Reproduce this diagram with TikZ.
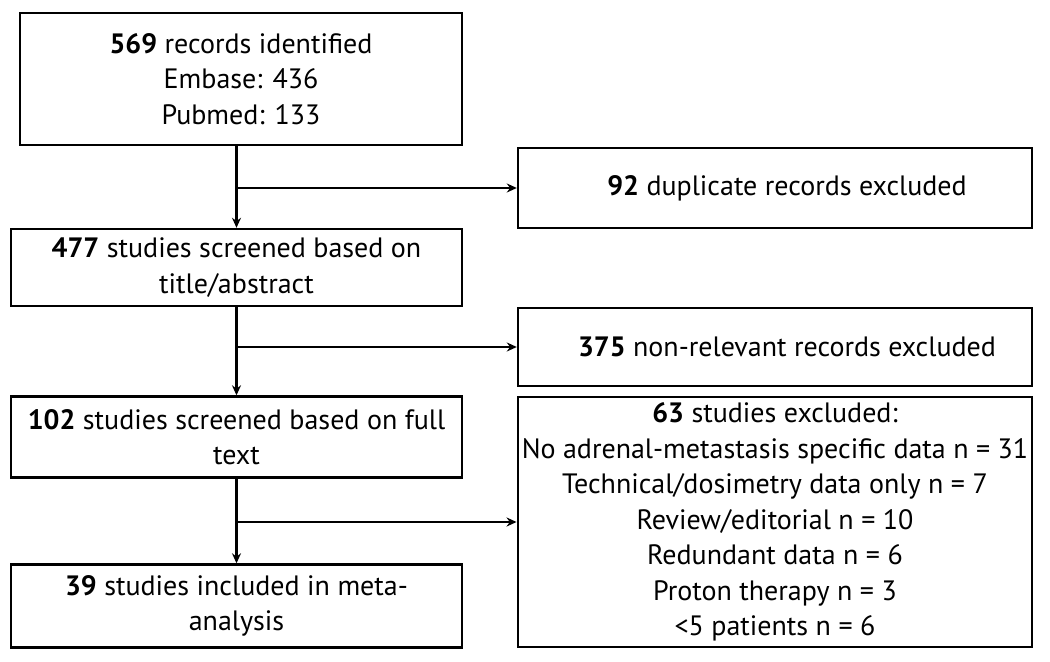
\documentclass[tikz,border=0pt]{standalone}
\usepackage{fontspec}
\setmainfont{PT Sans}
\usepackage{tikz}
\usetikzlibrary{arrows.meta}

\begin{document}
\begin{tikzpicture}[x=0.5pt, y=-0.5pt,
  box/.style={draw, line width=1.2pt, align=center, inner sep=2pt, font=\fontsize{14}{17.75}\selectfont},
  flow/.style={line width=1.2pt, -{Stealth[length=5pt,width=4.5pt]}}]
\useasboundingbox (0,0) rectangle (1050,662);
\node[box, minimum width=221pt, minimum height=66pt] (found) at (241,79) {\textbf{569} records identified\\Embase: 436\\Pubmed: 133};
\node[box, minimum width=257pt, minimum height=40pt] (dup) at (775,188) {\hspace{12pt}\textbf{92} duplicate records excluded};
\node[box, minimum width=225.5pt, minimum height=38.5pt] (title) at (236.5,267.5) {\textbf{477} studies screened based on\\title/abstract};
\node[box, minimum width=257pt, minimum height=39pt] (nonrel) at (775,347) {\hspace{12pt}\textbf{375} non-relevant records excluded};
\node[box, minimum width=225.5pt, minimum height=40.5pt] (full) at (236.5,437) {\textbf{102} studies screened based on full\\text};
\node[box, minimum width=257pt, minimum height=125pt] (excl) at (775,522) {\textbf{63} studies excluded:\\No adrenal-metastasis specific data n = 31\\Technical/dosimetry data only n = 7\\Review/editorial n = 10\\Redundant data n = 6\\Proton therapy n = 3\\<5 patients n = 6};
\node[box, minimum width=225.5pt, minimum height=41.5pt] (incl) at (236.5,606) {\textbf{39} studies included in meta-\\analysis};
\draw[flow] (found.south -| title.north) -- (title.north);
\draw[flow] (dup.west -| title.north) -- (dup.west);
\draw[flow] (title.south) -- (full.north);
\draw[flow] (nonrel.west -| full.north) -- (nonrel.west);
\draw[flow] (full.south) -- (incl.north);
\draw[flow] (excl.west -| full.south) -- (excl.west);
\end{tikzpicture}
\end{document}
